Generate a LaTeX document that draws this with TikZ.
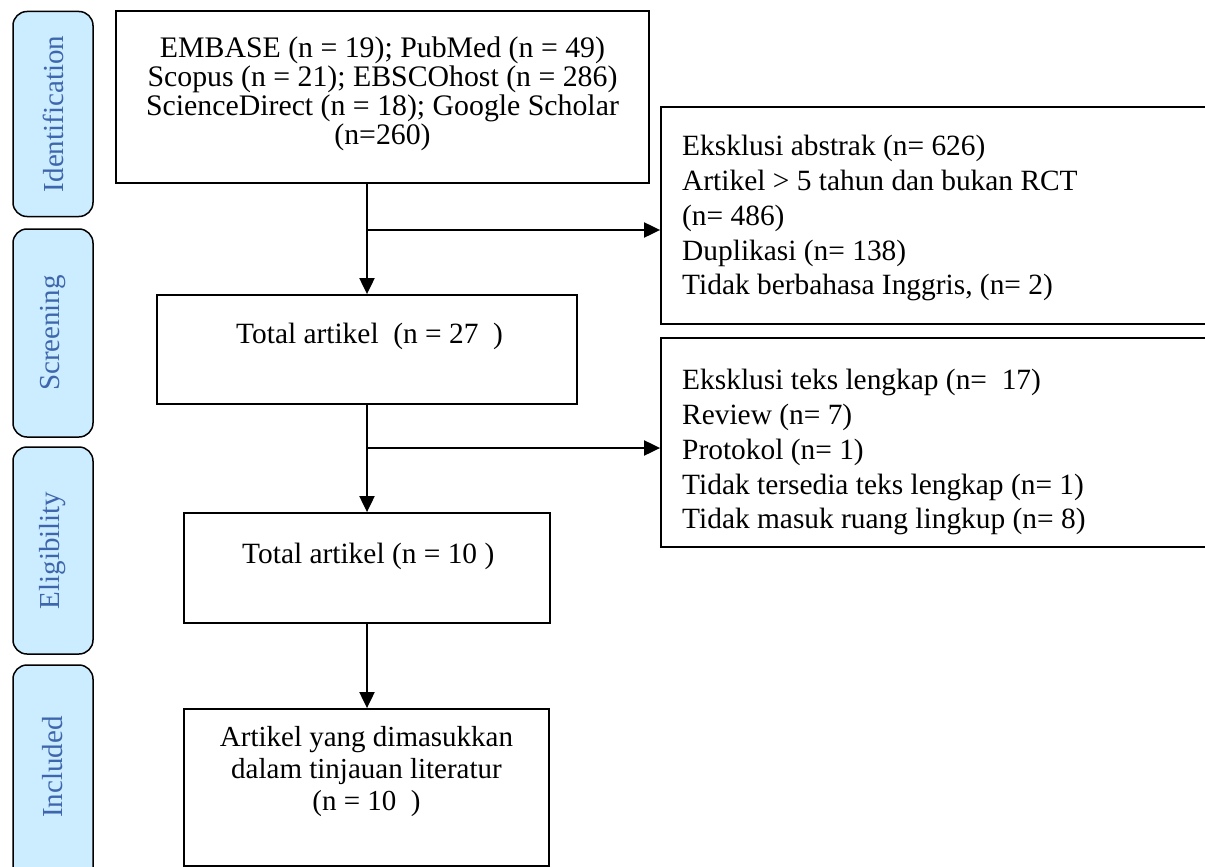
\documentclass[tikz,border=0pt]{standalone}
\usepackage{fontspec}
\setmainfont{Liberation Serif}
\usetikzlibrary{arrows.meta}
\definecolor{phasefill}{RGB}{204,236,255}
\definecolor{phasetext}{RGB}{62,102,172}
\tikzset{
  box/.style={draw, line width=1.8pt, inner sep=0pt},
  phase/.style={draw, line width=1.5pt, fill=phasefill, rounded corners=14pt, rotate=90,
    minimum height=80pt, text=phasetext, font=\fontsize{29}{30}\selectfont, inner sep=0pt},
  txt/.style={font=\fontsize{29.8}{29}\selectfont, align=center, inner sep=0pt},
  mtxt/.style={font=\fontsize{29.4}{29}\selectfont, inner sep=0pt, anchor=west},
  ltxt/.style={font=\fontsize{29.4}{34.8}\selectfont, align=left, inner sep=0pt, anchor=north west},
  arr/.style={line width=2pt, -{Triangle[length=16pt,width=15pt]}},
}
\begin{document}
\begin{tikzpicture}[x=1pt,y=-1pt]
\useasboundingbox (0,0) rectangle (1205,867);
% phase labels
\node[phase, minimum width=205pt] (pid) at (53,114) {Identification};
\node[phase, minimum width=208pt] (psc) at (53,333) {Screening};
\node[phase, minimum width=207pt] (pel) at (53,550.5) {Eligibility};
\node[phase, minimum width=240pt] (pin) at (53,785) {};
\node[rotate=90, text=phasetext, font=\fontsize{29}{30}\selectfont] (pint) at (53,767) {Included};
% main boxes
\node[box, minimum width=533pt, minimum height=172pt] (src) at (382.5,97) {};
\node[txt] (srct) at (382.5,94) {EMBASE (n = 19); PubMed (n = 49)\\Scopus (n = 21); EBSCOhost (n = 286)\\ScienceDirect (n = 18); Google Scholar\\(n=260)};
\node[box, minimum width=420pt, minimum height=109pt] (tot1) at (367,349.5) {};
\node[mtxt] (tot1t) at (236,336) {Total artikel\ \ (n = 27\ \ )};
\node[box, minimum width=366pt, minimum height=110pt] (tot2) at (367,568) {};
\node[mtxt] (tot2t) at (242,556) {Total artikel (n = 10 )};
\node[box, minimum width=365pt, minimum height=157pt] (inc) at (366.5,787.5) {};
\node[txt, font=\fontsize{29}{32}\selectfont] (inct) at (366.5,772) {Artikel yang dimasukkan\\dalam tinjauan literatur\\(n = 10\ \ )};
% exclusion boxes
\node[box, minimum width=600pt, minimum height=217pt] (ex1) at (961,215.5) {};
\node[ltxt] (ex1t) at (682,135) {Eksklusi abstrak (n= 626)\\Artikel > 5 tahun dan bukan RCT\\(n= 486)\\Duplikasi (n= 138)\\Tidak berbahasa Inggris, (n= 2)};
\node[box, minimum width=600pt, minimum height=209pt] (ex2) at (961,442.5) {};
\node[ltxt] (ex2t) at (682,369) {Eksklusi teks lengkap (n=\ \ 17)\\Review (n= 7)\\Protokol (n= 1)\\Tidak tersedia teks lengkap (n= 1)\\Tidak masuk ruang lingkup (n= 8)};
% connectors
\coordinate (j1) at (367,230);
\coordinate (j2) at (367,448);
\draw[arr] (src.south -| tot1.north) -- (tot1.north);
\draw[arr] (j1) -- (ex1.west |- j1);
\draw[arr] (tot1.south) -- (tot2.north);
\draw[arr] (j2) -- (ex2.west |- j2);
\draw[arr] (tot2.south) -- (inc.north -| tot2.south);
\end{tikzpicture}
\end{document}
